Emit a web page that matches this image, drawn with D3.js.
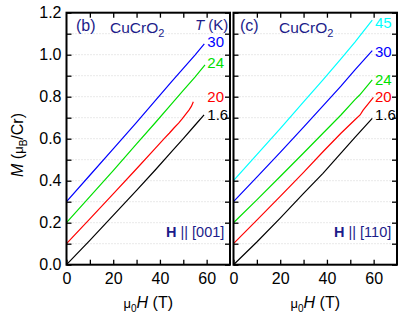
<!DOCTYPE html>
<html>
<head>
<meta charset="utf-8">
<script src="https://cdn.jsdelivr.net/npm/d3@7"></script>
<style>
body { margin: 0; background: #fff; }
text { font-family: "Liberation Sans", Arial, sans-serif; }
</style>
</head>
<body>
<div id="chart"></div>
<script>
// tick values
var fieldTicks = [0, 10, 20, 30, 40, 50, 60];
var momentTicks = [0, 0.1, 0.2, 0.3, 0.4, 0.5, 0.6, 0.7, 0.8, 0.9, 1.0, 1.1, 1.2];
var momentLabels = [0, 0.2, 0.4, 0.6, 0.8, 1.0, 1.2];

// temperatures (K) and colours of the curves
var tempsB = ["1.6", "20", "24", "30"];
var tempsC = ["1.6", "20", "24", "30", "45"];
var tempColors = {"1.6": "#000000", "20": "#ff0000", "24": "#00e000", "30": "#0000ff", "45": "#00ffff"};

// (b) H || [001] : [mu0H (T), M (muB/Cr)], curves offset by 0.1 each
var curveB_1_6 = [[0, 0], [10, 0.116], [20, 0.235], [30, 0.354], [38, 0.451], [45, 0.538], [50, 0.6], [55, 0.664], [58.9, 0.713]];
var curveB_20 = [[0, 0.1], [10, 0.218], [20, 0.337], [30, 0.457], [38, 0.554], [42, 0.603], [44, 0.626], [46, 0.651], [48, 0.674], [49.5, 0.694], [51, 0.716], [52.5, 0.737], [53.5, 0.755], [54.3, 0.776]];
var curveB_24 = [[0, 0.2], [10, 0.324], [20, 0.448], [30, 0.575], [38, 0.676], [45, 0.766], [50, 0.83], [55, 0.893], [59.3, 0.951]];
var curveB_30 = [[0, 0.3], [10, 0.426], [20, 0.552], [30, 0.678], [38, 0.781], [45, 0.872], [50, 0.935], [55, 0.998], [59, 1.052]];

// (c) H || [110]
var curveC_1_6 = [[0, 0], [10, 0.108], [20, 0.222], [30, 0.34], [38.3, 0.435], [46, 0.531], [52, 0.606], [59.4, 0.697]];
var curveC_20 = [[0, 0.1], [10, 0.212], [20, 0.325], [30, 0.44], [38.3, 0.538], [46, 0.626], [52, 0.69], [54.2, 0.713], [55.5, 0.736], [59.9, 0.797]];
var curveC_24 = [[0, 0.2], [10, 0.309], [20, 0.42], [30, 0.532], [38.3, 0.626], [46, 0.713], [52, 0.786], [54, 0.808], [59.4, 0.88]];
var curveC_30 = [[0, 0.3], [10, 0.417], [20, 0.535], [30, 0.655], [38.3, 0.756], [46, 0.85], [52, 0.928], [59.4, 1.019]];
var curveC_45 = [[0, 0.4], [10, 0.524], [20, 0.648], [30, 0.775], [38.3, 0.88], [46, 0.98], [52, 1.06], [59.4, 1.165]];

// label heights (M) at the right end of the curves
var labelB = [0.713, 0.8, 0.96, 1.062];
var labelC = [0.713, 0.8, 0.88, 1.014, 1.15];

var navy = "#1c1c8a";

/**
 * One panel of the figure
 */
function Panel(svg, left, right, opts) {
    var self = this;
    self.svg = svg;
    self.left = left;
    self.right = right;
    self.top = 12.7;
    self.bottom = 264.7;
    self.opts = opts;
    self.init();
}

Panel.prototype.init = function() {
    var self = this;
    var o = self.opts;

    self.x = d3.scaleLinear().domain([0, 70]).range([self.left, self.right]);
    self.y = d3.scaleLinear().domain([0, 1.2]).range([self.bottom, self.top]);

    var g = self.svg.append("g");

    // dotted grid
    g.selectAll("line.grid")
        .data(momentTicks.filter(function(d) { return d > 0 && d < 1.2; }))
        .enter().append("line")
        .attr("x1", self.left).attr("x2", self.right)
        .attr("y1", function(d) { return self.y(d); })
        .attr("y2", function(d) { return self.y(d); })
        .attr("stroke", "#c8c8c8")
        .attr("stroke-width", 0.8)
        .attr("stroke-dasharray", "1,2");

    // curves
    var line = d3.line()
        .x(function(d) { return self.x(d[0]); })
        .y(function(d) { return self.y(d[1]); });

    g.selectAll("path.curve")
        .data(o.curves)
        .enter().append("path")
        .attr("d", function(d) { return line(d.values); })
        .attr("fill", "none")
        .attr("stroke", function(d) { return tempColors[d.t]; })
        .attr("stroke-width", 1.2);

    // curve labels
    g.selectAll("text.tlabel")
        .data(o.curves)
        .enter().append("text")
        .attr("x", self.x(o.labelH))
        .attr("y", function(d) { return self.y(d.labelM); })
        .attr("dy", "0.35em")
        .attr("font-size", 15)
        .attr("fill", function(d) { return tempColors[d.t]; })
        .text(function(d) { return d.t; });

    // axes, ticks inward
    var fmt = function(d) { return d % 20 === 0 ? d : ""; };
    var bottom = g.append("g")
        .attr("transform", "translate(0," + self.bottom + ")")
        .call(d3.axisBottom(self.x).tickValues(fieldTicks).tickFormat(fmt).tickSizeInner(-5).tickSizeOuter(0).tickPadding(8));
    var top = g.append("g")
        .attr("transform", "translate(0," + self.top + ")")
        .call(d3.axisTop(self.x).tickValues(fieldTicks.slice(1)).tickFormat("").tickSizeInner(-5).tickSizeOuter(0));
    var leftAx = g.append("g")
        .attr("transform", "translate(" + self.left + ",0)")
        .call(d3.axisLeft(self.y).tickValues(momentTicks).tickSizeInner(-5).tickSizeOuter(0).tickPadding(5)
            .tickFormat(function(d) { return o.yLabels && momentLabels.indexOf(d) >= 0 ? d3.format(".1f")(d) : ""; }));
    var rightAx = g.append("g")
        .attr("transform", "translate(" + self.right + ",0)")
        .call(d3.axisRight(self.y).tickValues(momentTicks).tickFormat("").tickSizeInner(-5).tickSizeOuter(0));

    [bottom, top, leftAx, rightAx].forEach(function(a) {
        a.select(".domain").remove();
        a.selectAll(".tick line").attr("stroke", "#000").attr("stroke-width", 1.3);
        a.selectAll("text").attr("font-size", 16).attr("font-family", null).attr("fill", "#000");
    });

    // frame
    g.append("rect")
        .attr("x", self.left).attr("y", self.top)
        .attr("width", self.right - self.left)
        .attr("height", self.bottom - self.top)
        .attr("fill", "none")
        .attr("stroke", "#000")
        .attr("stroke-width", 2);

    // panel tag and compound
    g.append("text").attr("x", o.tagX).attr("y", 31)
        .attr("font-size", 16).attr("fill", navy).text(o.tag);
    var cmp = g.append("text").attr("x", o.cmpX).attr("y", 33)
        .attr("font-size", 15.5).attr("fill", navy);
    cmp.append("tspan").text("CuCrO");
    cmp.append("tspan").attr("dy", 4).attr("font-size", 11).text("2");

    // field direction
    var dir = g.append("text").attr("x", o.dirX).attr("y", 236.5)
        .attr("font-size", 14.5).attr("fill", navy);
    dir.append("tspan").attr("font-weight", "bold").text("H");
    dir.append("tspan").text(" || " + o.dir);

    // x axis title
    var xt = g.append("text")
        .attr("x", (self.left + self.right) / 2).attr("y", 308)
        .attr("text-anchor", "middle").attr("font-size", 16).attr("fill", "#000");
    xt.append("tspan").attr("font-size", 13).text("μ");
    xt.append("tspan").attr("font-size", 10).attr("dy", 4).text("0");
    xt.append("tspan").attr("dy", -4).attr("font-style", "italic").text("H");
    xt.append("tspan").text(" (T)");
};

var svg = d3.select("#chart").append("svg")
    .attr("width", 415)
    .attr("height", 318);

function makeCurves(temps, lists, labels) {
    return temps.map(function(t, i) {
        return {t: t, values: lists[i], labelM: labels[i]};
    });
}

var panelB = new Panel(svg, 66.5, 230, {
    curves: makeCurves(tempsB, [curveB_1_6, curveB_20, curveB_24, curveB_30], labelB),
    labelH: 60.3, yLabels: true, tag: "(b)", tagX: 76, cmpX: 110,
    dir: "[001]", dirX: 166
});
var panelC = new Panel(svg, 233.5, 397, {
    curves: makeCurves(tempsC, [curveC_1_6, curveC_20, curveC_24, curveC_30, curveC_45], labelC),
    labelH: 60.6, yLabels: false, tag: "(c)", tagX: 240, cmpX: 279,
    dir: "[110]", dirX: 334
});

// T (K) header in panel (b)
var tk = svg.append("text").attr("x", 195).attr("y", 30)
    .attr("font-size", 15).attr("fill", navy);
tk.append("tspan").attr("font-style", "italic").text("T");
tk.append("tspan").text(" (K)");

// y axis title
var yt = svg.append("text")
    .attr("transform", "translate(23,145) rotate(-90)")
    .attr("text-anchor", "middle").attr("font-size", 16).attr("fill", "#000");
yt.append("tspan").attr("font-style", "italic").text("M");
yt.append("tspan").text(" (");
yt.append("tspan").attr("font-size", 13).text("μ");
yt.append("tspan").attr("font-size", 10).attr("dy", 4).text("B");
yt.append("tspan").attr("dy", -4).text("/Cr)");
</script>
</body>
</html>
